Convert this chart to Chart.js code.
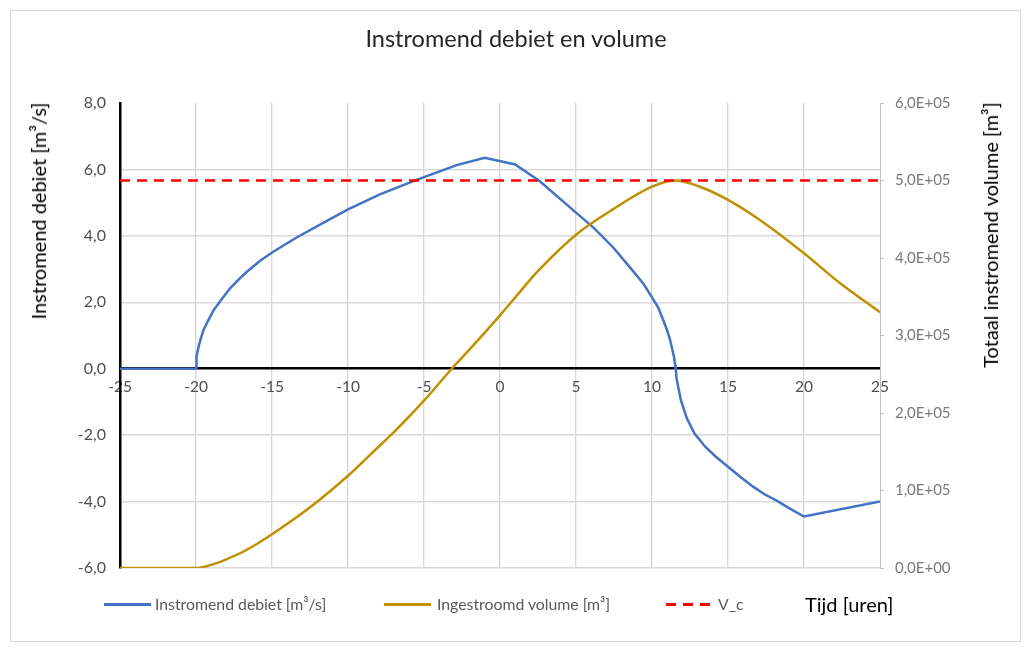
<!DOCTYPE html>
<html><head><meta charset="utf-8">
<script src="https://cdn.jsdelivr.net/npm/chart.js@4.4.1/dist/chart.umd.min.js"></script>
<style>
html,body{margin:0;padding:0;background:#fff;}
#wrap{position:relative;width:1025px;height:648px;overflow:hidden;font-family:Lato,'Noto Sans',sans-serif;}
#frame{position:absolute;left:10px;top:10px;width:1011px;height:632px;border:1px solid #d9d9d9;box-sizing:border-box;}
canvas{position:absolute;left:0;top:0;}
.t{position:absolute;white-space:nowrap;transform:translate(-50%,-50%);line-height:1;}
.r{transform:translate(-50%,-50%) rotate(-90deg);}
.lg{position:absolute;white-space:nowrap;line-height:1;transform:translateY(-50%);}
.sw{position:absolute;height:0;}
</style></head>
<body><div id="wrap">
<div id="frame"></div>
<canvas id="c" width="1025" height="648"></canvas>
<div class="t" id="title" style="left:516px;top:39px;font-size:23.5px;color:#262626;"></div>
<div class="t r" id="ytitle" style="left:38px;top:211px;font-size:20px;color:#000;"></div>
<div class="t r" id="y1title" style="left:990px;top:235px;font-size:20px;color:#000;"></div>
<div id="legend"></div>
<div class="lg" id="xtitle" style="left:805px;top:604px;font-size:20px;color:#000;"></div>
</div>
<script>
// ---- data ----
const chartTitle = 'Instromend debiet en volume';
const leftAxisTitle = 'Instromend debiet [m³/s]';
const rightAxisTitle = 'Totaal instromend volume [m³]';
const xAxisTitle = 'Tijd [uren]';
const seriesLabels = ['Instromend debiet [m³/s]', 'Ingestroomd volume [m³]', 'V_c'];

const flowTime  = [-25, -20, -19.98, -19.95, -19.9, -19.8, -19.7, -19.52, -19.2, -18.86, -18.3, -17.76, -17.2, -16.67, -15.8, -15, -13.38, -11.6, -10, -7.9, -5.7, -5, -2.85, -1, 1, 2.6, 5, 6.15, 7.45, 8.55, 9.45, 10, 10.4, 10.75, 11.0, 11.2, 11.35, 11.45, 11.52, 11.56, 11.62, 11.75, 11.9, 12.3, 12.8, 13.5, 14.2, 15, 15.8, 16.65, 17.4, 18.2, 19.1, 20, 25];
const flowValue = [0, 0, 0.23, 0.36, 0.51, 0.72, 0.88, 1.15, 1.45, 1.75, 2.1, 2.42, 2.68, 2.91, 3.24, 3.5, 3.95, 4.4, 4.8, 5.25, 5.65, 5.77, 6.13, 6.35, 6.15, 5.65, 4.7, 4.25, 3.65, 3.05, 2.55, 2.15, 1.85, 1.45, 1.15, 0.85, 0.55, 0.35, 0.12, 0.0, -0.3, -0.6, -0.95, -1.5, -1.95, -2.35, -2.65, -2.95, -3.25, -3.55, -3.78, -3.97, -4.22, -4.45, -4.0];

const volTime  = [-25, -20, -19, -18.4, -17, -16, -15, -13, -11.8, -10, -8.5, -6.8, -5, -3, -2, 0, 1.3, 2.4, 5, 7.45, 10, 11.5, 13.15, 15, 17.1, 20, 22.4, 25];
const volValue = [0, 0, 4000, 8000, 20000, 31000, 43500, 71000, 89000, 119000, 147000, 179000, 216000, 261000, 282000, 326000, 356000, 381000, 430000, 463000, 492000, 500000, 492000, 475000, 449000, 406000, 367000, 330000];

const vcTime  = [-25, 25];
const vcValue = [500000, 500000];

const xTickLabels = ['-25', '-20', '-15', '-10', '-5', '0', '5', '10', '15', '20', '25'];
const leftTickLabels = ['-6,0', '-4,0', '-2,0', '0,0', '2,0', '4,0', '6,0', '8,0'];
const rightTickLabels = ['0,0E+00', '1,0E+05', '2,0E+05', '3,0E+05', '4,0E+05', '5,0E+05', '6,0E+05'];

// ---- texts ----
document.getElementById('title').textContent = chartTitle;
document.getElementById('ytitle').textContent = leftAxisTitle;
document.getElementById('y1title').textContent = rightAxisTitle;
document.getElementById('xtitle').textContent = xAxisTitle;

const colors = ['#4472C4', '#BF9000', '#FF0000'];
const legendPos = [[104, 155], [384, 437], [666, 718]];
const lg = document.getElementById('legend');
seriesLabels.forEach((lab, i) => {
  const sw = document.createElement('div');
  sw.className = 'sw';
  sw.style.left = legendPos[i][0] + 'px';
  sw.style.top = '603px';
  sw.style.width = '47px';
  sw.style.height = '3px';
  if (i === 2) {
    sw.style.background = 'repeating-linear-gradient(to right,' + colors[i] + ' 0 10px, transparent 10px 17px)';
  } else {
    sw.style.background = colors[i];
  }
  lg.appendChild(sw);
  const tx = document.createElement('div');
  tx.className = 'lg';
  tx.style.left = legendPos[i][1] + 'px';
  tx.style.top = '604px';
  tx.style.fontSize = '15.8px';
  tx.style.color = '#595959';
  tx.textContent = lab;
  lg.appendChild(tx);
});

const toXY = (xs, ys) => xs.map((x, i) => ({x: x, y: ys[i]}));

new Chart(document.getElementById('c'), {
  type: 'line',
  data: {
    datasets: [
      {label: seriesLabels[0], data: toXY(flowTime, flowValue), yAxisID: 'y', borderColor: colors[0], borderWidth: 2.5, pointRadius: 0, tension: 0, order: 3},
      {label: seriesLabels[1], data: toXY(volTime, volValue), yAxisID: 'y1', borderColor: colors[1], borderWidth: 2.5, pointRadius: 0, cubicInterpolationMode: 'monotone', order: 2},
      {label: seriesLabels[2], data: toXY(vcTime, vcValue), yAxisID: 'y1', borderColor: colors[2], borderWidth: 2.5, borderDash: [10, 7], pointRadius: 0, tension: 0, order: 1}
    ]
  },
  options: {
    responsive: false,
    animation: false,
    events: [],
    layout: {padding: {top: 103, bottom: 80, left: 0, right: 0}},
    plugins: {legend: {display: false}, tooltip: {enabled: false}, title: {display: false}},
    scales: {
      x: {
        type: 'linear', position: {y: 0}, min: -25, max: 25,
        ticks: {stepSize: 5, autoSkip: false, maxRotation: 0, color: '#505050', font: {family: 'Lato', size: 15.5}, padding: 9,
          callback: (v, i) => xTickLabels[i]},
        grid: {drawTicks: false, lineWidth: 1.4,
          color: ctx => (ctx.tick && (ctx.tick.value === -25 || ctx.tick.value === 25)) ? 'rgba(0,0,0,0)' : '#d9d9d9'},
        border: {color: '#000', width: 2.5}
      },
      y: {
        position: 'left', min: -6, max: 8,
        ticks: {stepSize: 2, color: '#505050', font: {family: 'Lato', size: 16}, padding: 14, callback: (v, i) => leftTickLabels[i]},
        grid: {drawTicks: false, lineWidth: 1.4,
          color: ctx => (ctx.tick && (ctx.tick.value === 8 || ctx.tick.value === 0)) ? 'rgba(0,0,0,0)' : '#d9d9d9'},
        border: {color: '#000', width: 2.5},
        afterFit: s => { s.width = 120; }
      },
      y1: {
        position: 'right', min: 0, max: 600000,
        ticks: {stepSize: 100000, color: '#7a7a7a', font: {family: 'Lato', size: 15}, padding: 11, callback: (v, i) => rightTickLabels[i]},
        grid: {drawOnChartArea: false, drawTicks: true, tickLength: 4, color: '#bfbfbf'},
        border: {color: '#bfbfbf', width: 1},
        afterFit: s => { s.width = 145; }
      }
    }
  }
});
</script>
</body></html>
